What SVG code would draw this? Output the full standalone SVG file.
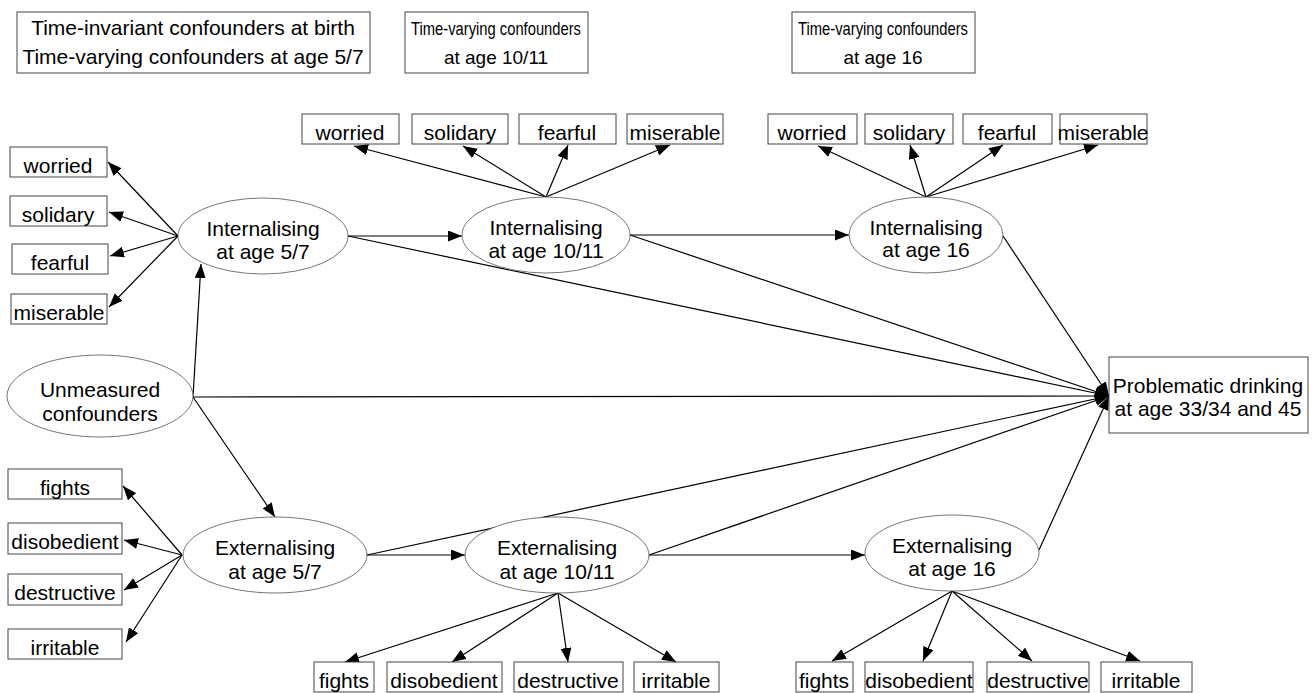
<svg xmlns="http://www.w3.org/2000/svg" width="1314" height="693" viewBox="0 0 1314 693">
<style>
text{font-family:"Liberation Sans",Arial,sans-serif;font-size:21px;fill:#000;text-anchor:middle}
.sm{font-size:19px}
.box{fill:#fff;stroke:#444;stroke-width:1}
.ell{fill:#fff;stroke:#666;stroke-width:0.9}
.cn line{stroke:#000;stroke-width:1.2;marker-end:url(#ah)}
</style>
<defs>
<marker id="ah" markerUnits="userSpaceOnUse" markerWidth="14" markerHeight="11" refX="14" refY="5.5" orient="auto"><path d="M0,0 L14,5.5 L0,11 z" fill="#000"/></marker>
</defs>
<rect width="1314" height="693" fill="#fff"/>

<g id="conf-birth"><rect class="box" x="17" y="12" width="353" height="61"/><text x="193" y="35">Time-invariant confounders at birth</text><text x="193" y="64">Time-varying confounders at age 5/7</text></g>
<g id="conf-10"><rect class="box" x="405" y="12" width="183" height="61"/><text class="sm" x="496" y="35" textLength="170" lengthAdjust="spacingAndGlyphs">Time-varying confounders</text><text class="sm" x="496" y="64">at age 10/11</text></g>
<g id="conf-16"><rect class="box" x="792" y="12" width="183" height="61"/><text class="sm" x="883" y="35" textLength="170" lengthAdjust="spacingAndGlyphs">Time-varying confounders</text><text class="sm" x="883" y="64">at age 16</text></g>

<g class="cn" id="connectors">
<line x1="178" y1="236" x2="108" y2="162"/>
<line x1="178" y1="236" x2="109" y2="212"/>
<line x1="178" y1="236" x2="110" y2="256"/>
<line x1="178" y1="236" x2="109" y2="307"/>
<line x1="182" y1="555" x2="123" y2="486"/>
<line x1="182" y1="555" x2="124" y2="540"/>
<line x1="182" y1="555" x2="124" y2="590"/>
<line x1="182" y1="555" x2="126" y2="642"/>
<line x1="193" y1="397" x2="201" y2="264"/>
<line x1="193" y1="397" x2="275" y2="517"/>
<line x1="193" y1="397" x2="1109" y2="396"/>
<line x1="348" y1="236" x2="462" y2="236"/>
<line x1="630" y1="235" x2="849" y2="235"/>
<line x1="367" y1="555" x2="465" y2="555"/>
<line x1="649" y1="555" x2="865" y2="555"/>
<line x1="348" y1="236" x2="1109" y2="396"/>
<line x1="630" y1="235" x2="1109" y2="396"/>
<line x1="1003" y1="236" x2="1109" y2="396"/>
<line x1="367" y1="555" x2="1109" y2="396"/>
<line x1="649" y1="555" x2="1109" y2="396"/>
<line x1="1039" y1="550" x2="1109" y2="396"/>
<line x1="546" y1="197" x2="354" y2="146"/>
<line x1="546" y1="197" x2="463" y2="146"/>
<line x1="546" y1="197" x2="568" y2="145"/>
<line x1="546" y1="197" x2="670" y2="145"/>
<line x1="926" y1="197" x2="818" y2="146"/>
<line x1="926" y1="197" x2="910" y2="145"/>
<line x1="926" y1="197" x2="1003" y2="145"/>
<line x1="926" y1="197" x2="1098" y2="145"/>
<line x1="558" y1="593" x2="345" y2="662"/>
<line x1="558" y1="593" x2="452" y2="662"/>
<line x1="558" y1="593" x2="568" y2="662"/>
<line x1="558" y1="593" x2="676" y2="662"/>
<line x1="952" y1="591" x2="832" y2="661"/>
<line x1="952" y1="591" x2="923" y2="661"/>
<line x1="952" y1="591" x2="1032" y2="661"/>
<line x1="952" y1="591" x2="1140" y2="661"/>
</g>

<g id="int57"><ellipse class="ell" cx="263" cy="236" rx="85" ry="38"/><text x="263" y="236">Internalising</text><text x="263" y="259">at age 5/7</text></g>
<g id="int1011"><ellipse class="ell" cx="546" cy="235" rx="84" ry="38"/><text x="546" y="235">Internalising</text><text x="546" y="258">at age 10/11</text></g>
<g id="int16"><ellipse class="ell" cx="926" cy="235" rx="77" ry="38"/><text x="926" y="235">Internalising</text><text x="926" y="257">at age 16</text></g>
<g id="unmeasured"><ellipse class="ell" cx="100" cy="396" rx="93" ry="41"/><text x="100" y="397">Unmeasured</text><text x="100" y="421">confounders</text></g>
<g id="ext57"><ellipse class="ell" cx="275" cy="555" rx="92" ry="38"/><text x="275" y="555">Externalising</text><text x="275" y="579">at age 5/7</text></g>
<g id="ext1011"><ellipse class="ell" cx="557" cy="555" rx="92" ry="38"/><text x="557" y="555">Externalising</text><text x="557" y="579">at age 10/11</text></g>
<g id="ext16"><ellipse class="ell" cx="952" cy="553" rx="87" ry="38"/><text x="952" y="553">Externalising</text><text x="952" y="576">at age 16</text></g>
<g id="drinking"><rect class="box" x="1109" y="357" width="199" height="76"/><text x="1208" y="393">Problematic drinking</text><text x="1208" y="416">at age 33/34 and 45</text></g>

<g id="int57-items">
<rect class="box" x="10" y="147" width="97" height="30"/><text x="58" y="173">worried</text>
<rect class="box" x="10" y="196" width="97" height="30"/><text x="58" y="222">solidary</text>
<rect class="box" x="12" y="244" width="96" height="30"/><text x="60" y="270">fearful</text>
<rect class="box" x="11" y="294" width="96" height="30"/><text x="59" y="320">miserable</text>
</g>
<g id="int1011-items">
<rect class="box" x="302" y="114" width="97" height="30"/><text x="350" y="140">worried</text>
<rect class="box" x="412" y="114" width="96" height="30"/><text x="460" y="140">solidary</text>
<rect class="box" x="519" y="114" width="97" height="30"/><text x="567" y="140">fearful</text>
<rect class="box" x="627" y="114" width="96" height="30"/><text x="675" y="140">miserable</text>
</g>
<g id="int16-items">
<rect class="box" x="768" y="114" width="89" height="30"/><text x="812" y="140">worried</text>
<rect class="box" x="865" y="114" width="88" height="30"/><text x="909" y="140">solidary</text>
<rect class="box" x="963" y="114" width="89" height="30"/><text x="1007" y="140">fearful</text>
<rect class="box" x="1060" y="114" width="87" height="30"/><text x="1103" y="140">miserable</text>
</g>
<g id="ext57-items">
<rect class="box" x="8" y="469" width="114" height="30"/><text x="65" y="495">fights</text>
<rect class="box" x="8" y="523" width="114" height="31"/><text x="65" y="549">disobedient</text>
<rect class="box" x="8" y="574" width="114" height="31"/><text x="65" y="600">destructive</text>
<rect class="box" x="8" y="629" width="114" height="30"/><text x="65" y="655">irritable</text>
</g>
<g id="ext1011-items">
<rect class="box" x="314" y="662" width="60" height="30"/><text x="344" y="688">fights</text>
<rect class="box" x="387" y="662" width="115" height="30"/><text x="444" y="688">disobedient</text>
<rect class="box" x="514" y="662" width="109" height="30"/><text x="568" y="688">destructive</text>
<rect class="box" x="634" y="662" width="85" height="30"/><text x="676" y="688">irritable</text>
</g>
<g id="ext16-items">
<rect class="box" x="796" y="662" width="57" height="30"/><text x="824" y="688">fights</text>
<rect class="box" x="865" y="662" width="108" height="30"/><text x="919" y="688">disobedient</text>
<rect class="box" x="987" y="662" width="102" height="30"/><text x="1038" y="688">destructive</text>
<rect class="box" x="1101" y="662" width="91" height="30"/><text x="1146" y="688">irritable</text>
</g>
</svg>
